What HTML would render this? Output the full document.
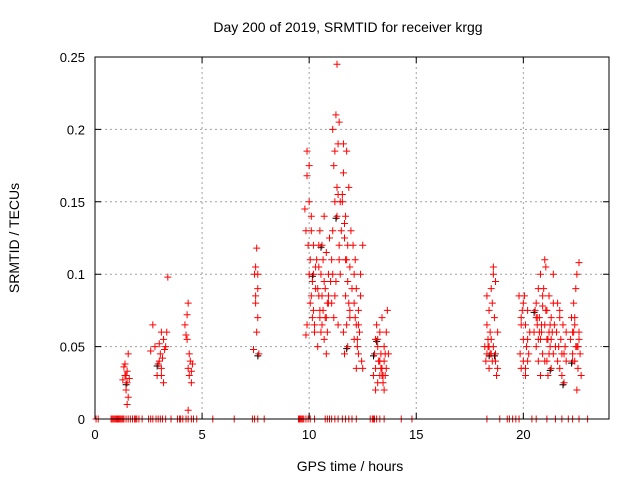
<!DOCTYPE html>
<html><head><meta charset="utf-8"><style>
body{margin:0;background:#fff}
svg{display:block;font-family:"Liberation Sans",sans-serif}
</style></head><body>
<svg id="chart" width="640" height="480" viewBox="0 0 640 480" xmlns="http://www.w3.org/2000/svg">
<g id="grid"></g>
<g id="points"></g>
<rect x="95" y="57" width="514" height="362" fill="none" stroke="#000" stroke-width="1"/>
<g id="axes"></g>
<text x="348" y="32" text-anchor="middle" font-size="14">Day 200 of 2019, SRMTID for receiver krgg</text>
<text x="350" y="471" text-anchor="middle" font-size="14">GPS time / hours</text>
<text transform="translate(19,238) rotate(-90)" text-anchor="middle" font-size="14">SRMTID / TECUs</text>
</svg>
<script>
const xTicks=[0,5,10,15,20];
const yTicks=[0,0.05,0.1,0.15,0.2,0.25];
const yTickLabels=["0","0.05","0.1","0.15","0.2","0.25"];
const xs=[1.3,1.35,1.4,1.45,1.5,1.5,1.55,1.55,1.6,1.4,1.5,1.45,
2.6,2.7,2.8,2.9,3.0,3.0,3.05,3.1,3.1,3.15,3.2,3.2,3.25,3.3,3.35,2.95,3.1,3.4,
4.2,4.25,4.3,4.3,4.35,4.35,4.4,4.4,4.45,4.5,4.5,4.55,4.35,
7.4,7.45,7.5,7.5,7.55,7.6,7.6,7.65,7.5,7.55,7.6,
9.8,9.85,9.9,9.9,9.95,10.0,10.0,10.05,10.1,10.1,10.15,10.2,10.2,10.25,10.3,10.3,9.9,10.0,10.1,10.2,9.85,
10.35,10.4,10.45,10.5,10.5,10.55,10.6,10.6,10.65,10.7,10.7,10.75,10.8,10.8,10.85,10.9,10.9,10.95,11.0,10.4,10.5,10.6,10.7,10.8,10.9,10.45,10.65,
11.05,11.1,11.1,11.15,11.2,11.2,11.25,11.3,11.3,11.35,11.35,11.4,11.4,11.45,11.5,11.1,11.2,11.3,11.4,11.25,11.15,11.45,11.35,11.05,
11.55,11.6,11.6,11.65,11.7,11.7,11.75,11.8,11.8,11.85,11.9,11.9,11.95,12.0,11.6,11.7,11.8,11.9,11.65,11.75,
12.05,12.1,12.1,12.15,12.2,12.2,12.25,12.3,12.3,12.35,12.4,12.45,12.5,12.5,12.1,12.2,12.3,12.4,
13.0,13.05,13.1,13.1,13.15,13.2,13.2,13.25,13.3,13.3,13.35,13.4,13.4,13.45,13.5,13.5,13.55,13.6,13.6,13.65,13.7,13.1,13.3,13.5,13.2,13.4,
18.2,18.25,18.3,18.3,18.35,18.4,18.4,18.45,18.5,18.5,18.55,18.6,18.6,18.65,18.7,18.7,18.75,18.8,18.8,18.3,18.5,18.7,18.4,18.6,
19.8,19.85,19.9,19.9,19.95,20.0,20.0,20.05,20.1,20.1,20.15,20.2,20.2,20.25,20.3,19.9,20.0,20.1,20.2,
20.5,20.55,20.6,20.6,20.65,20.7,20.7,20.75,20.8,20.8,20.85,20.9,20.9,20.95,21.0,21.0,21.05,21.1,21.1,21.15,21.2,21.2,21.25,21.3,21.3,21.35,21.4,21.4,21.45,21.5,20.6,20.8,21.0,21.2,21.4,20.7,20.9,21.1,21.3,
21.55,21.6,21.65,21.7,21.7,21.75,21.8,21.85,21.9,21.95,22.0,21.6,21.8,22.0,21.7,21.9,
22.2,22.25,22.3,22.3,22.35,22.4,22.4,22.45,22.5,22.5,22.55,22.6,22.6,22.65,22.7,22.3,22.4,22.5,22.6,22.45,
10.05,10.15,10.25,10.45,10.55,10.75,10.85,11.55,11.65,11.75,11.85,12.15,12.25,13.25,13.35,13.45,13.55,18.35,18.45,18.55,20.65,20.75,20.85,21.05,21.15,21.25,22.35,22.55];
const ys=[0.027,0.036,0.03,0.02,0.025,0.033,0.045,0.015,0.028,0.038,0.01,0.03,
0.047,0.065,0.05,0.03,0.04,0.052,0.045,0.06,0.035,0.042,0.055,0.025,0.048,0.05,0.06,0.038,0.03,0.098,
0.065,0.058,0.072,0.055,0.08,0.035,0.03,0.045,0.04,0.025,0.033,0.038,0.006,
0.048,0.1,0.105,0.085,0.118,0.07,0.09,0.045,0.08,0.06,0.1,
0.145,0.13,0.185,0.168,0.12,0.175,0.1,0.11,0.085,0.14,0.095,0.075,0.12,0.065,0.09,0.105,0.065,0.15,0.13,0.1,0.058,
0.11,0.09,0.12,0.075,0.13,0.1,0.065,0.085,0.11,0.055,0.14,0.09,0.07,0.115,0.06,0.1,0.08,0.125,0.095,0.05,0.07,0.12,0.095,0.045,0.085,0.105,0.075,
0.11,0.13,0.2,0.175,0.185,0.15,0.21,0.245,0.16,0.19,0.155,0.205,0.12,0.15,0.13,0.1,0.085,0.14,0.11,0.095,0.07,0.1,0.065,0.08,
0.15,0.19,0.17,0.125,0.14,0.11,0.185,0.12,0.095,0.16,0.105,0.075,0.13,0.09,0.06,0.085,0.05,0.07,0.045,0.065,
0.12,0.1,0.08,0.11,0.065,0.09,0.05,0.075,0.045,0.06,0.1,0.04,0.035,0.12,0.055,0.035,0.065,0.085,
0.03,0.045,0.055,0.035,0.065,0.025,0.05,0.04,0.03,0.06,0.045,0.035,0.07,0.025,0.05,0.04,0.03,0.06,0.035,0.075,0.045,0.02,0.04,0.02,0.055,0.03,
0.05,0.04,0.065,0.045,0.055,0.075,0.035,0.06,0.09,0.045,0.08,0.105,0.05,0.07,0.04,0.095,0.03,0.06,0.035,0.085,0.055,0.045,0.05,0.1,
0.085,0.045,0.065,0.035,0.075,0.04,0.055,0.085,0.03,0.065,0.05,0.04,0.075,0.045,0.06,0.07,0.08,0.035,0.055,
0.06,0.075,0.05,0.08,0.065,0.09,0.04,0.07,0.055,0.1,0.06,0.078,0.045,0.09,0.065,0.04,0.105,0.055,0.075,0.03,0.06,0.085,0.05,0.07,0.035,0.06,0.08,0.045,0.065,0.05,0.07,0.03,0.11,0.045,0.1,0.055,0.085,0.04,0.055,
0.06,0.04,0.05,0.07,0.035,0.055,0.045,0.065,0.025,0.05,0.04,0.08,0.03,0.06,0.075,0.045,
0.055,0.07,0.045,0.06,0.08,0.04,0.065,0.09,0.05,0.1,0.035,0.055,0.108,0.045,0.03,0.04,0.07,0.02,0.06,0.05,
0.08,0.07,0.06,0.085,0.06,0.07,0.08,0.155,0.135,0.11,0.08,0.07,0.055,0.04,0.035,0.03,0.045,0.05,0.045,0.04,0.07,0.06,0.065,0.075,0.055,0.065,0.06,0.05];
const zeroXs=[0.05,0.15,0.75,0.8,0.85,0.9,0.95,1.0,1.05,1.1,1.15,1.2,1.25,1.3,1.35,1.45,1.55,1.65,1.75,1.85,1.9,1.95,2.05,2.2,2.5,2.6,2.7,2.85,2.95,3.05,3.15,3.3,3.55,3.85,3.95,4.0,4.1,4.25,4.35,4.5,4.6,4.75,5.5,6.5,7.35,7.45,7.6,7.9,9.5,9.55,9.6,9.65,9.7,9.75,9.85,9.95,10.05,10.25,10.75,10.85,10.95,11.05,11.2,11.35,11.55,11.7,11.85,12.0,12.2,12.85,12.95,13.0,13.05,13.15,13.3,13.5,14.3,14.8,18.3,18.9,19.25,19.35,19.5,19.65,19.8,20.4,20.6,21.1,21.5,21.8,22.1,22.3,22.6,23.0];
const W=640,H=480,x0=95,x1=609,y0=419,y1=57;
const xMin=0,xMax=24,yMin=0,yMax=0.25;
function sx(v){return x0+(v-xMin)/(xMax-xMin)*(x1-x0);}
function sy(v){return y0-(v-yMin)/(yMax-yMin)*(y0-y1);}
const NS="http://www.w3.org/2000/svg";
function mk(t,a,p){const e=document.createElementNS(NS,t);for(const k in a)e.setAttribute(k,a[k]);p.appendChild(e);return e;}
const grid=document.getElementById('grid'),axes=document.getElementById('axes'),pts=document.getElementById('points');
xTicks.forEach((t,i)=>{const x=sx(t);
 if(t>0){const g=mk('line',{x1:x,x2:x,y1:y1,y2:y0,stroke:'#a0a0a0','stroke-dasharray':'2,3'},grid);
 
 }
 const k=mk('path',{d:`M${x},${y0}v-6M${x},${y1}v6`,stroke:'#000'},axes);
 
 
 const l=mk('text',{x:x,y:y0+20,'text-anchor':'middle','font-size':13},axes);
 
 
 l.textContent=t;});
yTicks.forEach((t,i)=>{const y=sy(t);
 if(t>0&&t<0.25){const g=mk('line',{x1:x0,x2:x1,y1:y,y2:y,stroke:'#a0a0a0','stroke-dasharray':'2,3'},grid);
 
 }
 const k=mk('path',{d:`M${x0},${y}h6M${x1},${y}h-6`,stroke:'#000'},axes);
 
 
 const l=mk('text',{x:x0-10,y:y+5,'text-anchor':'end','font-size':13},axes);
 
 
 l.textContent=yTickLabels[i];});
function plus(x,y,c){const p=mk('path',{d:`M${x-3.5},${y}h7M${x},${y-3.5}v7`,stroke:c,'stroke-width':1},pts);
 
 }
xs.forEach((v,i)=>{if(i%23==4)plus(sx(v)-1,sy(ys[i])+2,'#000');});
xs.forEach((v,i)=>plus(sx(v),sy(ys[i]),'#ff0000'));
zeroXs.forEach(v=>plus(sx(v),sy(0),'#ff0000'));
</script>
</body></html>
